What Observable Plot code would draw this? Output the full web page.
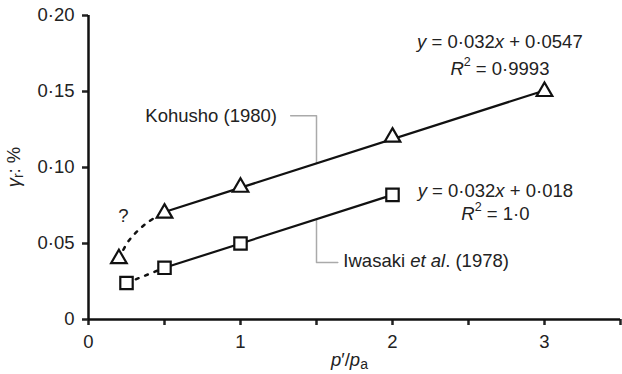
<!DOCTYPE html>
<html><head><meta charset="utf-8">
<script src="https://cdn.jsdelivr.net/npm/d3@7"></script>
<script src="https://cdn.jsdelivr.net/npm/@observablehq/plot@0.6"></script>
<style>
body { margin: 0; background: #fff; }
</style></head><body><div id="chart"></div>
<script>
// Measured residual strain vs normalised confining stress
const kohushoP = [0.2, 0.5, 1, 2, 3];
const kohushoGamma = [0.040, 0.070, 0.087, 0.120, 0.150];
const iwasakiP = [0.25, 0.5, 1, 2];
const iwasakiGamma = [0.024, 0.034, 0.050, 0.082];

// Linear fits (as stated in the equations)
const kohushoFit = {slope: 0.032, intercept: 0.0547, from: 0.5, to: 3, r2: "0·9993", c: "0·0547"};
const iwasakiFit = {slope: 0.032, intercept: 0.018, from: 0.5, to: 2, r2: "1·0", c: "0·018"};

// Dotted low-stress trends
const kohushoLowP = [0.2, 0.257, 0.31, 0.39, 0.5];
const kohushoLowGamma = [0.040, 0.0507, 0.057, 0.064, 0.0707];
const iwasakiLowP = [0.25, 0.5];
const iwasakiLowGamma = [0.024, 0.034];

// Leader lines to the series labels
const kohushoLeaderP = [1.33, 1.5, 1.5];
const kohushoLeaderGamma = [0.134, 0.134, 0.1027];
const iwasakiLeaderP = [1.5, 1.5, 1.64];
const iwasakiLeaderGamma = [0.066, 0.0375, 0.0375];

const yTicks = [0, 0.05, 0.10, 0.15, 0.20];
const xTicks = [0, 0.5, 1, 1.5, 2, 2.5, 3, 3.5];
const xLabels = ["0", "", "1", "", "2", "", "3", ""];

const FONT = "'Liberation Sans', Arial, sans-serif";
const FS = 18.5;
const toRows = (xs, ys) => xs.map((x, i) => ({x, y: ys[i]}));
const fitRows = f => [f.from, f.to].map(x => ({x, y: f.slope * x + f.intercept}));
const fmtY = d => d === 0 ? "0" : d.toFixed(2).replace(".", "·");

const chart = Plot.plot({
  width: 622,
  height: 374,
  marginLeft: 88,
  marginRight: 2,
  marginTop: 15,
  marginBottom: 55,
  style: {fontFamily: FONT, fontSize: `${FS}px`, color: "#222", background: "#fff"},
  x: {domain: [0, 3.5]},
  y: {domain: [0, 0.2]},
  marks: [
    Plot.axisY({ticks: yTicks, tickFormat: fmtY, tickSize: 6, tickPadding: 8, strokeWidth: 2.5, label: null}),
    Plot.axisX({ticks: xTicks, tickFormat: (d, i) => xLabels[i], tickSize: 6, tickPadding: 9, strokeWidth: 2.5, label: null}),
    Plot.ruleX([0], {y1: 0, y2: 0.2, strokeWidth: 2.5, stroke: "#111"}),
    Plot.ruleY([0], {x1: 0, x2: 3.5, strokeWidth: 2.5, stroke: "#111"}),
    Plot.line(toRows(kohushoLeaderP, kohushoLeaderGamma), {x: "x", y: "y", stroke: "#aaa", strokeWidth: 1.5}),
    Plot.line(toRows(iwasakiLeaderP, iwasakiLeaderGamma), {x: "x", y: "y", stroke: "#aaa", strokeWidth: 1.5}),
    Plot.line(toRows(kohushoLowP, kohushoLowGamma), {x: "x", y: "y", curve: "catmull-rom", stroke: "#111", strokeWidth: 2.5, strokeDasharray: "3,7"}),
    Plot.line(toRows(iwasakiLowP, iwasakiLowGamma), {x: "x", y: "y", stroke: "#111", strokeWidth: 2.5, strokeDasharray: "3,7"}),
    Plot.line(fitRows(kohushoFit), {x: "x", y: "y", stroke: "#111", strokeWidth: 2.2}),
    Plot.line(fitRows(iwasakiFit), {x: "x", y: "y", stroke: "#111", strokeWidth: 2.2}),
    Plot.dot(toRows(kohushoP, kohushoGamma), {x: "x", y: "y", symbol: "triangle", r: 5.8, fill: "#fff", stroke: "#111", strokeWidth: 2.2}),
    Plot.dot(toRows(iwasakiP, iwasakiGamma), {x: "x", y: "y", symbol: "square", r: 7, fill: "#fff", stroke: "#111", strokeWidth: 2.2}),
    Plot.text(["?"], {x: 0.23, y: 0.068, fontSize: FS, fill: "#222"}),
    Plot.text(["Kohusho (1980)"], {x: 1.24, y: 0.134, textAnchor: "end", fontSize: FS, fill: "#222"})
  ]
});

document.getElementById("chart").append(chart);

// Rich-text annotations (italics, super/subscripts)
const sx = chart.scale("x").apply, sy = chart.scale("y").apply;
const svg = d3.select(chart);
function rich(x, y, parts, anchor = "middle", rotate = 0) {
  const t = svg.append("text")
    .attr("text-anchor", anchor)
    .attr("font-family", FONT)
    .attr("font-size", FS)
    .attr("fill", "#222")
    .attr("dominant-baseline", "middle")
    .attr("transform", `translate(${x},${y}) rotate(${rotate})`);
  let shift = 0;
  for (const [s, kind = ""] of parts) {
    const ts = t.append("tspan").text(s);
    let target = 0;
    if (kind.includes("i")) ts.attr("font-style", "italic");
    if (kind.includes("sup")) { ts.attr("font-size", 12.5); target = -7; }
    if (kind.includes("sub")) { ts.attr("font-size", 14); target = 4; }
    if (target !== shift) { ts.attr("dy", target - shift); shift = target; }
  }
  return t;
}

rich(sx(2.71), sy(0.1816), [["y", "i"], [" = 0·032"], ["x", "i"], [` + ${kohushoFit.c}`]]);
rich(sx(2.71), sy(0.1638), [["R", "i"], ["2", "sup"], [` = ${kohushoFit.r2}`]]);
rich(sx(2.68), sy(0.0836), [["y", "i"], [" = 0·032"], ["x", "i"], [` + ${iwasakiFit.c}`]]);
rich(sx(2.68), sy(0.0684), [["R", "i"], ["2", "sup"], [` = ${iwasakiFit.r2}`]]);
rich(sx(1.68), sy(0.0375), [["Iwasaki "], ["et al", "i"], [". (1978)"]], "start");
rich(sx(1.72), 361, [["p", "i"], ["′/"], ["p", "i"], ["a", "sub"]]);
rich(15, sy(0.1), [["γ", "i"], ["r", "sub"], [": %"]], "middle", -90);
</script></body></html>
